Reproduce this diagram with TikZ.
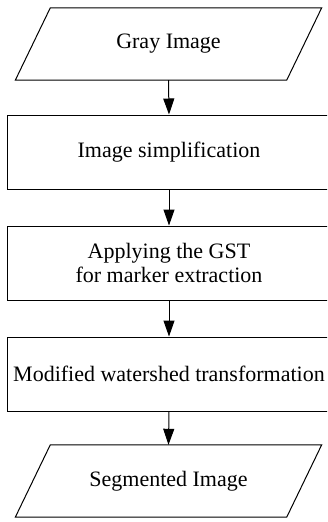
\documentclass[tikz,border=0pt]{standalone}
\usepackage{fontspec}
\setmainfont{Liberation Serif}
\usetikzlibrary{arrows.meta}
\begin{document}
\begin{tikzpicture}[x=1pt,y=-1pt,
  line/.style={line width=1pt,black},
  proc/.style={draw,line width=1pt,minimum width=324,minimum height=74,
    inner sep=0pt,align=center,font=\fontsize{22}{24.5}\selectfont},
  io/.style={minimum width=271,minimum height=72,inner sep=0pt,
    font=\fontsize{22}{24.5}\selectfont},
  flow/.style={line width=1pt,-{Triangle[length=16pt,width=11pt]}}]
\useasboundingbox (0,0) rectangle (327,522);
\clip (0,0) rectangle (327,522);
\fill[white] (0,0) rectangle (327,522);

% input
\node[io] (gray) at (168.5,44) {Gray Image};
\draw[line] ([xshift=-17.5pt]gray.south west) -- ([xshift=-17.5pt]gray.south east)
  -- ([xshift=17.5pt]gray.north east) -- ([xshift=17.5pt]gray.north west) -- cycle;

% processing steps
\node[proc] (simp) at (169,152) {Image simplification};
\node[proc] (gst) at (169,263) {Applying the GST\\for marker extraction};
\node[proc] (ws) at (169,374) {Modified watershed transformation};

% output
\node[io] (seg) at (168.5,481) {Segmented Image};
\draw[line] ([xshift=-17.5pt]seg.south west) -- ([xshift=-17.5pt]seg.south east)
  -- ([xshift=17.5pt]seg.north east) -- ([xshift=17.5pt]seg.north west) -- cycle;

% connectors
\draw[flow] (gray.south) -- (simp.north);
\draw[flow] (simp.south) -- (gst.north);
\draw[flow] (gst.south) -- (ws.north);
\draw[flow] (ws.south) -- (seg.north);
\end{tikzpicture}
\end{document}
